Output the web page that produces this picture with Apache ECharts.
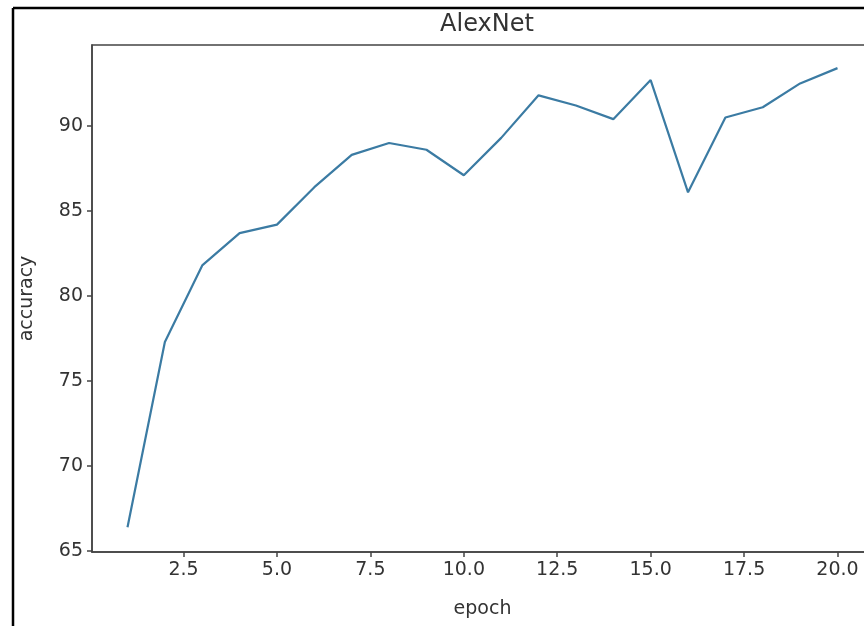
<!DOCTYPE html>
<html>
<head>
<meta charset="utf-8">
<script src="https://cdn.jsdelivr.net/npm/echarts@6/dist/echarts.min.js"></script>
<style>
  html, body { margin: 0; padding: 0; background: #fff; }
  #chart { width: 864px; height: 626px; }
</style>
</head>
<body>
<div id="chart"></div>
<script>
// epochs and accuracy
const epochs = [1, 2, 3, 4, 5, 6, 7, 8, 9, 10, 11, 12, 13, 14, 15, 16, 17, 18, 19, 20];
const accuracy = [66.4, 77.3, 81.8, 83.7, 84.2, 86.4, 88.3, 89.0, 88.6, 87.1,
                  89.3, 91.8, 91.2, 90.4, 92.7, 86.1, 90.5, 91.1, 92.5, 93.4];
const xTicks = [2.5, 5, 7.5, 10, 12.5, 15, 17.5, 20];
const yTicks = [65, 70, 75, 80, 85, 90];

const font = 'DejaVu Sans';
const textColor = '#333';
const spine = '#444';

let myChart = echarts.init(document.getElementById('chart'));
myChart.setOption({
  animation: false,
  title: {
    text: 'AlexNet',
    left: 482,
    top: 8,
    textAlign: 'center',
    textStyle: { fontFamily: font, fontSize: 24, fontWeight: 'normal', color: textColor }
  },
  grid: {
    left: 92,
    top: 45,
    width: 781,
    height: 507,
    outerBoundsMode: 'none',
    show: true,
    borderColor: spine,
    borderWidth: 1.5
  },
  graphic: [
    { type: 'line', shape: { x1: 13, y1: 8, x2: 13, y2: 626 }, style: { stroke: '#000', lineWidth: 2.5 } },
    { type: 'line', shape: { x1: 13, y1: 8, x2: 864, y2: 8 }, style: { stroke: '#000', lineWidth: 2.5 } }
  ],
  xAxis: {
    type: 'value',
    min: 0.05,
    max: 20.95,
    name: 'epoch',
    nameLocation: 'middle',
    nameGap: 48,
    nameTextStyle: { fontFamily: font, fontSize: 19, color: textColor },
    axisLine: { lineStyle: { color: spine, width: 1.5 } },
    axisTick: { show: true, customValues: xTicks, length: 5, lineStyle: { color: spine, width: 1.5 } },
    axisLabel: {
      customValues: xTicks,
      formatter: v => v.toFixed(1),
      fontFamily: font, fontSize: 19, color: textColor, margin: 9
    },
    splitLine: { show: false }
  },
  yAxis: {
    type: 'value',
    min: 64.95,
    max: 94.76,
    name: 'accuracy',
    nameLocation: 'middle',
    nameGap: 55,
    nameTextStyle: { fontFamily: font, fontSize: 19, color: textColor },
    axisLine: { show: true, lineStyle: { color: spine, width: 1.5 } },
    axisTick: { show: true, customValues: yTicks, length: 5, lineStyle: { color: spine, width: 1.5 } },
    axisLabel: {
      customValues: yTicks,
      fontFamily: font, fontSize: 19, color: textColor, margin: 9
    },
    splitLine: { show: false }
  },
  series: [{
    type: 'line',
    data: epochs.map((e, i) => [e, accuracy[i]]),
    showSymbol: false,
    lineStyle: { color: '#3b7ba3', width: 2.2 },
    itemStyle: { color: '#3b7ba3' }
  }]
});
</script>
</body>
</html>
